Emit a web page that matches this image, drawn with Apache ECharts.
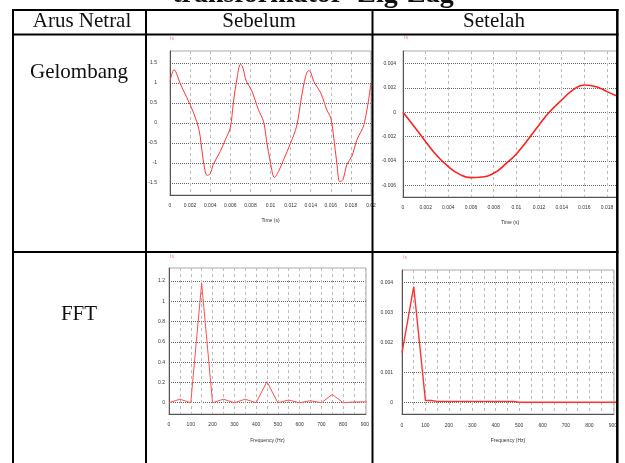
<!DOCTYPE html>
<html>
<head>
<meta charset="utf-8">
<script src="https://cdn.jsdelivr.net/npm/echarts@6/dist/echarts.min.js"></script>
<style>
html,body{margin:0;padding:0;background:#fff;}
#c{width:625px;height:463px;}
</style>
</head>
<body>
<div id="c"></div>
<script>
// ---- Table text ----
const titleText = 'transformator  Zig-Zag';
const headers = ['Arus Netral', 'Sebelum', 'Setelah'];
const rowLabels = ['Gelombang', 'FFT'];
const signalName = 'Is';
const timeAxisName = 'Time (s)';
const freqAxisName = 'Frequency (Hz)';

// ---- Chart 1: Sebelum, waveform ----
const t1 = [0,0.0004,0.001,0.0013,0.002,0.00266,0.003,0.0033,0.0037,0.004,0.0043,0.005,0.0055,0.006,0.0063,0.0067,0.007,0.0072,0.0076,0.0081,0.0088,0.0093,0.0096,0.01,0.0104,0.0108,0.0113,0.012,0.0126,0.0131,0.0135,0.0138,0.014,0.0143,0.015,0.0156,0.016,0.0163,0.0166,0.0169,0.0172,0.0176,0.0181,0.0186,0.0193,0.02];
const i1 = [1.04,1.33,1.0,0.83,0.46,0.04,-0.33,-0.92,-1.31,-1.27,-1.04,-0.71,-0.42,-0.12,0.5,1.17,1.46,1.42,1.04,0.83,0.33,0.04,-0.42,-1.0,-1.36,-1.21,-0.92,-0.5,-0.08,0.67,1.17,1.31,1.27,1.04,0.75,0.33,0.12,-0.38,-1.0,-1.47,-1.42,-1.04,-0.83,-0.42,-0.04,1.0];
const xTicks1 = [0,0.002,0.004,0.006,0.008,0.01,0.012,0.014,0.016,0.018,0.02];
const yTicks1 = [-1.5,-1,-0.5,0,0.5,1,1.5];

// ---- Chart 2: Setelah, waveform ----
const t2 = [0,0.00088,0.002,0.00294,0.004,0.005,0.006,0.00676,0.008,0.00912,0.01,0.01088,0.012,0.01294,0.014,0.015,0.016,0.01706,0.018,0.01888];
const i2 = [0,-0.00104,-0.00241,-0.00351,-0.00447,-0.0051,-0.00537,-0.00534,-0.00501,-0.00419,-0.00342,-0.00241,-0.00104,0.00005,0.00101,0.00184,0.00225,0.00211,0.0017,0.00134];
const xTicks2 = [0,0.002,0.004,0.006,0.008,0.01,0.012,0.014,0.016,0.018];
const yTicks2 = [-0.006,-0.004,-0.002,0,0.002,0.004];

// ---- Chart 3: Sebelum, FFT ----
const f3 = [0,50,100,150,200,250,300,350,400,450,500,550,600,650,700,750,800,850,900,950];
const a3 = [0,0.035,0,1.178,0,0.035,0,0.035,0,0.207,0,0.027,0,0.02,0,0.082,0,0.008,0.008,0.008];
const xGrid3 = [0,50,100,150,200,250,300,350,400,450,500,550,600,650,700,750,800,850,900];
const xLabels3 = [0,100,200,300,400,500,600,700,800,900];
const yTicks3 = [0,0.2,0.4,0.6,0.8,1,1.2];

// ---- Chart 4: Setelah, FFT ----
const f4 = [0,50,100,125,150,200,250,300,350,400,450,475,500,550,600,650,700,750,800,850,900,950];
const a4 = [0.00165,0.00386,0.00006,0.00006,0.00003,0.00003,0.00003,0.00003,0.00003,0.00003,0.00003,0.00003,0,0,0,0,0,0,0,0,0,0];
const xGrid4 = xGrid3;
const xLabels4 = xLabels3;
const yTicks4 = [0,0.001,0.002,0.003,0.004];

function pairs(xs, ys){ return xs.map((x,i)=>[x, ys[i]]); }

const labelFont = {fontSize:5, color:'#333', fontFamily:'Liberation Sans'};
const hSplit = {show:true, lineStyle:{color:'#666', type:'dotted', width:1}};
const vSplit = {show:true, lineStyle:{color:'#bbb', type:[3,3], width:1}};
const axLine = {show:true, onZero:false, lineStyle:{color:'#555', width:1}};

function xAxisDef(idx, max, grid, labels, name, margin, gap){
  return {
    type:'value', gridIndex:idx, min:0, max:max,
    axisLine:axLine,
    axisTick:{show:false, customValues:grid},
    axisLabel:Object.assign({customValues:labels, margin:margin, formatter:v=>String(+v.toFixed(6))}, labelFont),
    splitLine:vSplit,
    name:name, nameLocation:'middle', nameGap:gap,
    nameTextStyle:{fontSize:5, color:'#333', fontFamily:'Liberation Sans'}
  };
}
function yAxisDef(idx, min, max, ticks, margin){
  return {
    type:'value', gridIndex:idx, min:min, max:max,
    axisLine:axLine,
    axisTick:{show:false, customValues:ticks},
    axisLabel:Object.assign({customValues:ticks, margin:margin, formatter:v=>String(+v.toFixed(6))}, labelFont),
    splitLine:hSplit
  };
}

const serif = 'Liberation Serif';
function txt(x, y, s, opts){
  return {type:'text', x:x, y:y, z:50, style:Object.assign({text:s, font:'21px "'+serif+'"', fill:'#111', align:'center', verticalAlign:'middle'}, opts||{})};
}
function ln(x1,y1,x2,y2,w){
  return {type:'line', z:100, shape:{x1:x1,y1:y1,x2:x2,y2:y2}, style:{stroke:'#000', lineWidth:w||2}};
}
function isLabel(x,y){
  return {type:'text', x:x, y:y, z:50, style:{text:signalName, font:'5px "Liberation Sans"', fill:'#f08080', align:'left', verticalAlign:'middle'}};
}

const chart = echarts.init(document.getElementById('c'), null, {renderer:'canvas'});
chart.setOption({
  animation:false,
  backgroundColor:'#fff',
  grid:[
    {left:170, top:51, width:201, height:144, show:true, borderColor:'#aaa', borderWidth:1},
    {left:403, top:51, width:214, height:146, show:true, borderColor:'#aaa', borderWidth:1},
    {left:169, top:268, width:197, height:146, show:true, borderColor:'#aaa', borderWidth:1},
    {left:402, top:270, width:212, height:144, show:true, borderColor:'#aaa', borderWidth:1}
  ],
  xAxis:[
    xAxisDef(0, 0.02, xTicks1, xTicks1, timeAxisName, 8, 23),
    xAxisDef(1, 0.01888, xTicks2, xTicks2, timeAxisName, 8, 23),
    xAxisDef(2, 905, xGrid3, xLabels3, freqAxisName, 8, 24),
    xAxisDef(3, 905, xGrid4, xLabels4, freqAxisName, 9, 24)
  ],
  yAxis:[
    yAxisDef(0, -1.8, 1.8, yTicks1, 13),
    yAxisDef(1, -0.00696, 0.00504, yTicks2, 7),
    yAxisDef(2, -0.111, 1.329, yTicks3, 4),
    yAxisDef(3, -0.00039, 0.00441, yTicks4, 9)
  ],
  series:[
    {type:'line', xAxisIndex:0, yAxisIndex:0, data:pairs(t1,i1), showSymbol:false, smooth:0.35, lineStyle:{color:'#ff3535', width:1}},
    {type:'line', xAxisIndex:1, yAxisIndex:1, data:pairs(t2,i2), showSymbol:false, smooth:true, lineStyle:{color:'#ff2020', width:1.6}},
    {type:'line', xAxisIndex:2, yAxisIndex:2, data:pairs(f3,a3), showSymbol:false, lineStyle:{color:'#ff5050', width:1}},
    {type:'line', xAxisIndex:3, yAxisIndex:3, data:pairs(f4,a4), showSymbol:false, lineStyle:{color:'#ff3030', width:1.4}}
  ],
  graphic:[
    txt(313, -5.5, titleText, {font:'bold 28px "'+serif+'"'}),
    txt(82, 21.2, headers[0]),
    txt(259, 21.2, headers[1]),
    txt(494, 21.2, headers[2]),
    txt(79, 72.2, rowLabels[0]),
    txt(79, 314.6, rowLabels[1]),
    isLabel(170, 39), isLabel(404, 38), isLabel(170, 257), isLabel(403, 258),
    ln(12, 10, 618.5, 10),
    ln(12, 34.5, 618.5, 34.5),
    ln(12, 252, 618.5, 252),
    ln(13, 9, 13, 463),
    ln(146, 9, 146, 463),
    ln(372.5, 9, 372.5, 463),
    ln(617.3, 9, 617.3, 463, 2.5)
  ]
});
</script>
</body>
</html>
